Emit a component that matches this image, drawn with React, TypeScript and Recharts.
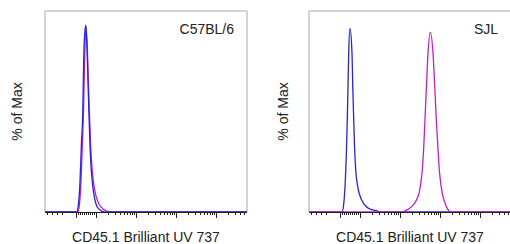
import { Line, LineChart, ReferenceLine, XAxis, YAxis } from "recharts";

type Pt = { x: number; v: number };

const BLUE = "#2626d2";
const MAGENTA = "#c21fc6";
const FRAME = "#a8a8a8";
const INK = "#222";
const FONT = '"Liberation Sans", Arial, Helvetica, sans-serif';

const X_LABEL = "CD45.1 Brilliant UV 737";
const Y_LABEL = "% of Max";

// x is in display channels (0..202), v is % of max
const C57_BLUE: Pt[] = [
  { x: 0, v: 0 }, { x: 32, v: 0 }, { x: 33, v: 2 }, { x: 35, v: 15 },
  { x: 36.5, v: 35 }, { x: 37.7, v: 48 }, { x: 38.3, v: 65 }, { x: 39, v: 81.6 },
  { x: 40.7, v: 93 }, { x: 42, v: 81.6 }, { x: 43, v: 65 }, { x: 44, v: 48 },
  { x: 45, v: 33 }, { x: 46, v: 23 }, { x: 47.5, v: 14 }, { x: 49, v: 8.5 },
  { x: 51, v: 4 }, { x: 53, v: 2 }, { x: 56, v: 0.7 }, { x: 60, v: 0 },
  { x: 202, v: 0 },
];

const C57_MAGENTA: Pt[] = [
  { x: 0, v: 0 }, { x: 33, v: 0 }, { x: 34, v: 2 }, { x: 36, v: 15 },
  { x: 37.5, v: 35 }, { x: 38.5, v: 50 }, { x: 39.2, v: 66 }, { x: 40, v: 82 },
  { x: 41, v: 92.5 }, { x: 42.3, v: 82 }, { x: 43.3, v: 66 }, { x: 44.5, v: 48 },
  { x: 45.7, v: 33 }, { x: 47, v: 22 }, { x: 49, v: 13 }, { x: 51, v: 8 },
  { x: 54, v: 4 }, { x: 58, v: 1.5 }, { x: 62, v: 0.5 }, { x: 66, v: 0 },
  { x: 202, v: 0 },
];

const SJL_BLUE: Pt[] = [
  { x: 0, v: 0 }, { x: 33, v: 0 }, { x: 34.5, v: 3 }, { x: 36, v: 12.6 },
  { x: 37.3, v: 28 }, { x: 38.3, v: 46 }, { x: 39, v: 62 }, { x: 39.7, v: 79 },
  { x: 41, v: 91.4 }, { x: 43, v: 79 }, { x: 43.8, v: 62 }, { x: 44.7, v: 46 },
  { x: 45.6, v: 32 }, { x: 46.7, v: 21 }, { x: 48.7, v: 12.6 }, { x: 52.7, v: 6 },
  { x: 59, v: 2 }, { x: 68, v: 0.5 }, { x: 72, v: 0 }, { x: 202, v: 0 },
];

const SJL_MAGENTA: Pt[] = [
  { x: 0, v: 0 }, { x: 93, v: 0 }, { x: 97, v: 0.8 }, { x: 101, v: 2 },
  { x: 104.3, v: 3.5 }, { x: 107.5, v: 6 }, { x: 110, v: 9.3 }, { x: 112, v: 15 },
  { x: 113.3, v: 21 }, { x: 114.8, v: 33 }, { x: 116, v: 46 }, { x: 117.5, v: 63 },
  { x: 119, v: 79 }, { x: 121.3, v: 89.4 }, { x: 124, v: 79 }, { x: 125.7, v: 63 },
  { x: 127.3, v: 46 }, { x: 128.8, v: 33 }, { x: 130.3, v: 21 }, { x: 131.8, v: 14 },
  { x: 133.3, v: 9.3 }, { x: 136.7, v: 3.5 }, { x: 139, v: 1.2 }, { x: 142, v: 0 },
  { x: 202, v: 0 },
];

// biexponential axis ticks
const MAJOR_TICKS = [31, 51, 91, 131, 171];
const MINOR_TICKS = [
  2, 7, 12, 17,
  33, 35, 37, 39, 41, 43, 45, 47, 49,
  63, 70, 75, 79, 82, 85, 87, 89,
  103, 110, 115, 119, 122, 125, 127, 129,
  143, 150, 155, 159, 162, 165, 167, 169,
  183, 190, 195, 199,
];
const ALL_TICKS = [...MAJOR_TICKS, ...MINOR_TICKS].sort((a, b) => a - b);

function AxisTick(props: any) {
  const { x, y, payload } = props;
  const major = MAJOR_TICKS.includes(payload.value);
  return (
    <line
      x1={x}
      x2={x}
      y1={y}
      y2={y + (major ? 6 : 3)}
      stroke={INK}
      strokeWidth={1}
      shapeRendering="crispEdges"
    />
  );
}

type Series = { key: string; data: Pt[]; color: string };

function Panel({
  title,
  series,
  left,
  width,
  yWidth,
  rightMargin,
  yDx,
}: {
  title: string;
  series: Series[];
  left: number;
  width: number;
  yWidth: number;
  rightMargin: number;
  yDx: number;
}) {
  return (
    <div style={{ position: "absolute", left, top: 0 }}>
      <LineChart width={width} height={244} margin={{ top: 11, right: rightMargin, bottom: 0, left: 0 }}>
        <XAxis
          dataKey="x"
          type="number"
          domain={[0, 202]}
          allowDataOverflow
          ticks={ALL_TICKS}
          interval={0}
          tick={<AxisTick />}
          tickLine={false}
          tickSize={0}
          tickMargin={0}
          height={32}
          axisLine={{ stroke: INK, shapeRendering: "crispEdges" }}
          label={{ value: X_LABEL, position: "insideBottom", offset: 2, fill: INK, fontSize: 14 }}
        />
        <YAxis
          type="number"
          domain={[0, 100]}
          width={yWidth}
          tick={false}
          tickLine={false}
          axisLine={{ stroke: FRAME }}
          label={{ value: Y_LABEL, angle: -90, position: "center", dx: yDx, fill: INK, fontSize: 14 }}
        />
        <ReferenceLine
          y={100}
          stroke={FRAME}
          label={{ value: title, position: "insideTopRight", offset: 13, fill: INK, fontSize: 14 }}
        />
        <ReferenceLine x={202} stroke={FRAME} />
        {series.map((s) => (
          <Line
            key={s.key}
            data={s.data}
            dataKey="v"
            type="monotone"
            stroke={s.color}
            strokeWidth={1.3}
            dot={false}
            activeDot={false}
            isAnimationActive={false}
          />
        ))}
      </LineChart>
    </div>
  );
}

export default function App() {
  return (
    <div
      style={{
        position: "absolute",
        left: 0,
        top: 0,
        width: 510,
        height: 244,
        overflow: "hidden",
        background: "#fff",
        fontFamily: FONT,
      }}
    >
      <Panel
        title="C57BL/6"
        left={0}
        width={260}
        yWidth={45}
        rightMargin={13}
        yDx={-5}
        series={[
          { key: "m", data: C57_MAGENTA, color: MAGENTA },
          { key: "b", data: C57_BLUE, color: BLUE },
        ]}
      />
      <Panel
        title="SJL"
        left={260}
        width={251}
        yWidth={49}
        rightMargin={0}
        yDx={-1}
        series={[
          { key: "b", data: SJL_BLUE, color: BLUE },
          { key: "m", data: SJL_MAGENTA, color: MAGENTA },
        ]}
      />
    </div>
  );
}
